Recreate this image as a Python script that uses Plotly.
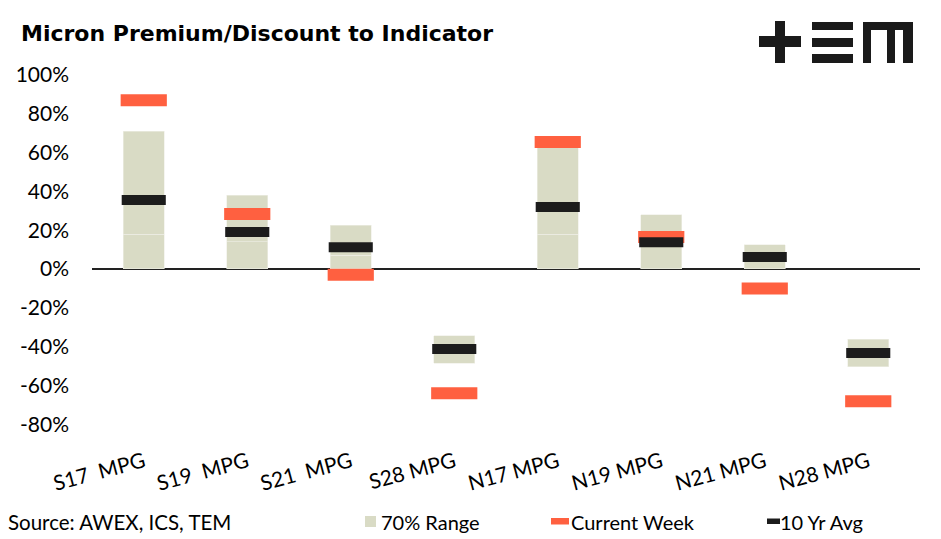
import plotly.graph_objects as go

categories = ["S17  MPG", "S19  MPG", "S21  MPG", "S28 MPG", "N17 MPG", "N19 MPG", "N21 MPG", "N28 MPG"]
range_low = [0.18, 0.14, 0.07, -0.485, 0.18, 0.135, 0.06, -0.505]
range_high = [0.71, 0.38, 0.225, -0.345, 0.64, 0.28, 0.125, -0.362]
current_week = [0.87, 0.284, -0.03, -0.64, 0.655, 0.165, -0.10, -0.682]
ten_yr_avg = [0.356, 0.19, 0.112, -0.412, 0.32, 0.138, 0.062, -0.433]
y_ticks = [-0.8, -0.6, -0.4, -0.2, 0, 0.2, 0.4, 0.6, 0.8, 1.0]
y_tick_labels = ["-80%", "-60%", "-40%", "-20%", "0%", "20%", "40%", "60%", "80%", "100%"]

BAR = "#D9DBC5"
ORANGE = "#FF6040"
BLACK = "#1C1C1C"
FONT = "Lato"

# lower visible segment (0 -> low) only for positive ranges
base_seg = [lo if lo > 0 else None for lo in range_low]
range_len = [hi - lo for lo, hi in zip(range_low, range_high)]

fig = go.Figure()
fig.add_trace(go.Bar(x=categories, y=base_seg, marker=dict(color=BAR, line=dict(color="#EEEFE6", width=0.6)),
                     width=0.4, showlegend=False, hoverinfo="skip"))
fig.add_trace(go.Bar(x=categories, y=range_len, base=range_low, name="70% Range", showlegend=False,
                     marker=dict(color=BAR, line=dict(color="#EEEFE6", width=0.6)), width=0.4))
fig.add_trace(go.Scatter(x=categories, y=current_week, mode="markers", name="Current Week", showlegend=False,
                         marker=dict(symbol="line-ew", size=33, line=dict(color=ORANGE, width=12))))
fig.add_trace(go.Scatter(x=categories, y=ten_yr_avg, mode="markers", name="10 Yr Avg", showlegend=False,
                         marker=dict(symbol="line-ew", size=31.5, line=dict(color=BLACK, width=10))))

# layout geometry (pixels)
L, R, T, B = 92, 920, 60, 445
W, H = 941, 539
def px(x):
    return (x - L) / (R - L)
def py(y):
    return (B - y) / (B - T)

shapes = []
logo_rects = [
    (759, 36, 801, 47), (775, 21, 785, 63),          # plus
    (812, 22, 853, 30), (812, 38, 853, 47), (812, 54, 853, 63),  # E
    (863, 22, 913, 30), (863, 22, 871, 63), (887, 22, 895, 63), (903, 22, 913, 63),  # M
]
for x0, y0, x1, y1 in logo_rects:
    shapes.append(dict(type="rect", xref="paper", yref="paper", x0=px(x0), x1=px(x1), y0=py(y1), y1=py(y0),
                       fillcolor="#1A1A1A", line=dict(width=0), layer="above"))

# legend (drawn manually to match the reference's compact layout)
LEG_Y = 521.5
legend_items = [
    ("70% Range", BAR, (365, 516, 376, 527), 379),
    ("Current Week", ORANGE, (551, 518, 569, 524.5), 569),
    ("10 Yr Avg", BLACK, (767, 518.5, 780, 524), 778),
]
annotations = [dict(text="Source: AWEX, ICS, TEM", xref="paper", yref="paper", x=px(6), y=py(LEG_Y),
                    xanchor="left", yanchor="middle", showarrow=False, font=dict(size=20.5))]
for label, color, (x0, y0, x1, y1), tx in legend_items:
    shapes.append(dict(type="rect", xref="paper", yref="paper", x0=px(x0), x1=px(x1), y0=py(y1), y1=py(y0),
                       fillcolor=color, line=dict(width=0)))
    annotations.append(dict(text=label, xref="paper", yref="paper", x=px(tx), y=py(LEG_Y),
                            xanchor="left", yanchor="middle", showarrow=False, font=dict(size=20)))

fig.update_layout(
    width=W, height=H,
    margin=dict(l=L, r=W - R, t=T, b=H - B, autoexpand=False),
    paper_bgcolor="white", plot_bgcolor="white",
    barmode="stack", bargap=0.6, showlegend=False,
    font=dict(family=FONT, color="#000000", size=21),
    title=dict(text="<b>Micron Premium/Discount to Indicator</b>", x=21 / W, xanchor="left",
               y=1 - 33 / H, yanchor="middle", font=dict(size=22, family="DejaVu Sans", color="#000000")),
    xaxis=dict(showgrid=False, showline=False, ticks="", tickangle=-15, tickfont=dict(size=21),
               range=[-0.5, 7.5], automargin=False),
    yaxis=dict(range=[-0.907, 1.077], tickvals=y_ticks, ticktext=y_tick_labels, showgrid=False,
               zeroline=True, zerolinecolor="#222222", zerolinewidth=1.5, showline=False, ticks="",
               tickfont=dict(size=21), ticklabelstandoff=22, automargin=False),
    shapes=shapes,
    annotations=annotations,
)

fig.write_html("out.html", post_script="document.body.style.margin='0px';",
               config={"displayModeBar": False})
